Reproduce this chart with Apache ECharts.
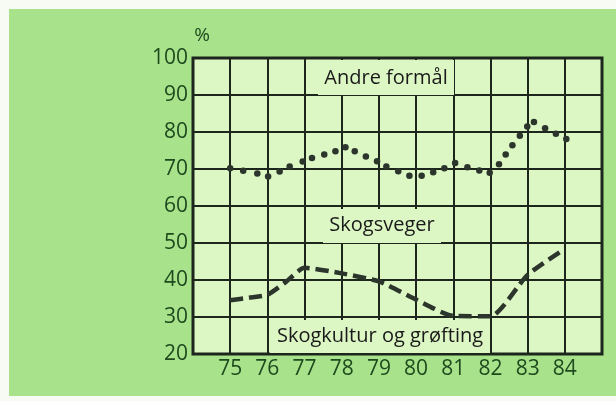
<!DOCTYPE html>
<html>
<head>
<meta charset="utf-8">
<script src="https://cdn.jsdelivr.net/npm/echarts@6/dist/echarts.min.js"></script>
<style>
  html, body { margin: 0; padding: 0; background: #f8faf4; }
  #chart { width: 616px; height: 401px; }
</style>
</head>
<body>
<div id="chart"></div>
<script>
// year ticks
const yearTicks = [75, 76, 77, 78, 79, 80, 81, 82, 83, 84]
// Andre formål (dotted line, one entry per dot)
const andreX = [75, 75.35, 75.73, 76.02, 76.33, 76.6, 76.95, 77.2, 77.53, 77.83, 78.1, 78.35, 78.65, 78.95, 79.2, 79.52, 79.82, 80.15, 80.46, 80.76, 81.05, 81.38, 81.7, 81.98, 82.23, 82.41, 82.59, 82.79, 82.99, 83.17, 83.47, 83.76, 84.04]
const andreY = [70.2, 69.5, 68.8, 68, 69.3, 70.7, 72, 73, 73.9, 74.8, 75.9, 74.8, 73.4, 72.1, 70.7, 69.4, 68.2, 68.2, 69.1, 70.2, 71.6, 70.5, 69.6, 69, 71.3, 73.9, 76.4, 79, 81.5, 82.7, 81, 79.5, 78.1]
// Skogkultur og grøfting (dashed line)
const kulturX = [75, 75.5, 76, 76.5, 77, 78, 79, 80, 81, 82, 83, 84]
const kulturY = [34.5, 35.2, 36, 39.5, 43.3, 41.8, 39.6, 34.7, 30.3, 30.2, 41.4, 48.4]

const chart = echarts.init(document.getElementById('chart'))
const zip = (xs, ys) => xs.map((x, i) => [x, ys[i]])
const ink = '#1c261c'
const pale = '#dcf6c4'
const labelFont = '20px "Open Sans"'

chart.setOption({
  animation: false,
  graphic: [
    { type: 'rect', z: -10, shape: { x: 9, y: 9, width: 607, height: 387 }, style: { fill: '#a8e28b' } },
    { type: 'text', style: { text: '%', x: 202, y: 36, align: 'center', verticalAlign: 'middle', fill: '#1e4a1e', font: '19px "Open Sans"' } },
    // label boxes covering the grid
    { type: 'rect', z: 100, shape: { x: 318, y: 60, width: 136, height: 35 }, style: { fill: pale } },
    { type: 'text', z: 101, style: { text: 'Andre formål', x: 386, y: 78, align: 'center', verticalAlign: 'middle', fill: '#1a1a1a', font: labelFont } },
    { type: 'rect', z: 100, shape: { x: 323, y: 209, width: 118, height: 34 }, style: { fill: pale } },
    { type: 'text', z: 101, style: { text: 'Skogsveger', x: 382, y: 225, align: 'center', verticalAlign: 'middle', fill: '#1a1a1a', font: labelFont } },
    { type: 'rect', z: 100, shape: { x: 270, y: 320, width: 220, height: 33 }, style: { fill: pale } },
    { type: 'text', z: 101, style: { text: 'Skogkultur og grøfting', x: 380, y: 336, align: 'center', verticalAlign: 'middle', fill: '#1a1a1a', font: labelFont } }
  ],
  grid: {
    left: 193, top: 58, right: 14, bottom: 47,
    show: true,
    backgroundColor: pale,
    borderColor: ink,
    borderWidth: 3
  },
  xAxis: {
    type: 'value',
    min: 74, max: 85, interval: 1,
    axisLine: { show: false },
    axisTick: { show: false },
    splitLine: { show: true, lineStyle: { color: ink, width: 2 } },
    axisLabel: {
      color: '#1e4a1e',
      fontSize: 21,
      fontFamily: 'Open Sans',
      margin: 5,
      formatter: v => (yearTicks.indexOf(v) >= 0 ? String(v) : '')
    }
  },
  yAxis: {
    type: 'value',
    min: 20, max: 100, interval: 10,
    axisLine: { show: false },
    axisTick: { show: false },
    splitLine: { show: true, lineStyle: { color: ink, width: 2 } },
    axisLabel: { color: '#1e4a1e', fontSize: 21, fontFamily: 'Open Sans', margin: 5 }
  },
  series: [
    {
      name: 'Andre formål',
      type: 'line',
      data: zip(andreX, andreY),
      symbol: 'circle',
      symbolSize: 6.5,
      showSymbol: true,
      itemStyle: { color: '#2b352b' },
      lineStyle: { width: 0, opacity: 0 }
    },
    {
      name: 'Skogkultur og grøfting',
      type: 'line',
      data: zip(kulturX, kulturY),
      smooth: 0.2,
      showSymbol: false,
      lineStyle: { color: '#2b352b', width: 4.5, type: [13, 6] }
    }
  ]
})
</script>
</body>
</html>
